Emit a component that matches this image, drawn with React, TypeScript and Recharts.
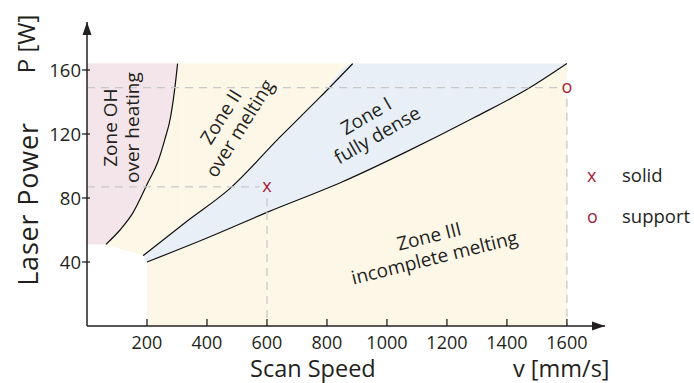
import React from 'react'
import {
  ComposedChart,
  Area,
  Line,
  Scatter,
  XAxis,
  YAxis,
  ReferenceLine,
  ReferenceDot,
} from 'recharts'

const ink = '#231f20'
const red = '#a51f3b'
const cream = '#fdf7e8'
const pink = '#f3e5e9'
const blue = '#e8eff7'
const font = '"Open Sans", sans-serif'

const xTicks = [200, 400, 600, 800, 1000, 1200, 1400, 1600]
const yTicks = [40, 80, 120, 160]

// process window, v in mm/s, P in W
const processWindow = [
  { v: 0, P: 164 },
  { v: 1600, P: 164 },
]
const ohTop = [
  { v: 0, P: 164 },
  { v: 302, P: 164 },
]
// zone boundaries
const ohBoundary = [
  { v: 63, P: 51 },
  { v: 110, P: 60 },
  { v: 154, P: 71 },
  { v: 204, P: 90 },
  { v: 235, P: 102 },
  { v: 260, P: 117 },
  { v: 278, P: 130 },
  { v: 293, P: 149 },
  { v: 302, P: 164 },
]
const upperBoundary = [
  { v: 187, P: 44 },
  { v: 330, P: 65 },
  { v: 477, P: 86 },
  { v: 643, P: 118 },
  { v: 777, P: 143 },
  { v: 886, P: 164 },
]
const lowerBoundary = [
  { v: 200, P: 40 },
  { v: 400, P: 55 },
  { v: 600, P: 71 },
  { v: 850, P: 90 },
  { v: 1066, P: 109 },
  { v: 1288, P: 130 },
  { v: 1477, P: 149 },
  { v: 1600, P: 164 },
]
const denseTop = [...upperBoundary, { v: 1600, P: 164 }]
const noZone = [
  { v: 0, P: 51 },
  { v: 63, P: 51 },
  { v: 187, P: 44 },
  { v: 200, P: 40 },
]

const samples = [
  { v: 600, P: 87, mark: 'x', name: 'solid' },
  { v: 1600, P: 149, mark: 'o', name: 'support' },
]

const zoneLabels = [
  { v: 117, P: 124, lines: ['Zone OH', 'over heating'] },
  { v: 480, P: 127, lines: ['Zone II', 'over melting'] },
  { v: 950, P: 125, lines: ['Zone I', 'fully dense'] },
  { v: 1150, P: 49, lines: ['Zone III', 'incomplete melting'] },
]
const labelAngle: Record<string, number> = {
  'Zone OH': -90,
  'Zone II': -58,
  'Zone I': -30,
  'Zone III': -14,
}

const XTick = (props: any) => {
  const { x, y, payload } = props
  return (
    <g>
      <line x1={x} x2={x} y1={y} y2={y - 7} stroke={ink} strokeWidth={1.3} />
      <text x={x} y={y + 23} textAnchor="middle" fontSize={18} fill={ink} fontFamily={font}>
        {payload.value}
      </text>
    </g>
  )
}

const YTick = (props: any) => {
  const { x, y, payload } = props
  return (
    <g>
      <line x1={x - 5} x2={x + 3} y1={y} y2={y} stroke={ink} strokeWidth={1.3} />
      <text x={x - 6} y={y + 6.5} textAnchor="end" fontSize={18.5} fill={ink} fontFamily={font}>
        {payload.value}
      </text>
    </g>
  )
}

const ZoneText = (props: any) => {
  const { cx, cy, payload } = props
  const a = labelAngle[payload.lines[0]]
  return (
    <text
      transform={`rotate(${a} ${cx} ${cy})`}
      fontSize={19}
      fill={ink}
      fontFamily={font}
      textAnchor="middle"
    >
      {payload.lines.map((l: string, i: number) => (
        <tspan key={i} x={cx} y={cy + (i === 0 ? -5 : 17)}>
          {l}
        </tspan>
      ))}
    </text>
  )
}

const Mark = (props: any) => {
  const { cx, cy, payload } = props
  return (
    <text x={cx} y={cy + 5} textAnchor="middle" fontSize={18} fill={red} fontFamily={font}>
      {payload.mark}
    </text>
  )
}

const ArrowRight = (props: any) => {
  const { cx, cy } = props
  return <polygon points={`${cx},${cy} ${cx - 13},${cy - 4.5} ${cx - 13},${cy + 4.5}`} fill={ink} />
}
const ArrowUp = (props: any) => {
  const { cx, cy } = props
  return <polygon points={`${cx},${cy} ${cx - 4.5},${cy + 13} ${cx + 4.5},${cy + 13}`} fill={ink} />
}

const txt: React.CSSProperties = {
  position: 'absolute',
  fontFamily: font,
  color: ink,
  lineHeight: 1,
  whiteSpace: 'nowrap',
}

export default function App() {
  return (
    <div style={{ position: 'absolute', left: 0, top: 0, width: 694, height: 383, background: '#fff' }}>
      <ComposedChart width={694} height={383} margin={{ top: 22, right: 89, bottom: 0, left: 0 }}>
        <XAxis
          type="number"
          dataKey="v"
          domain={[0, 1727]}
          ticks={xTicks}
          allowDataOverflow
          height={57}
          tickSize={0}
          tickMargin={0}
          tick={<XTick />}
          axisLine={{ stroke: ink, strokeWidth: 1.5 }}
        />
        <YAxis
          type="number"
          dataKey="P"
          domain={[0, 190]}
          ticks={yTicks}
          allowDataOverflow
          width={87}
          tickSize={0}
          tickMargin={0}
          tick={<YTick />}
          axisLine={{ stroke: ink, strokeWidth: 1.5 }}
        />
        <Area data={processWindow} dataKey="P" type="linear" stroke="none" fill={cream} fillOpacity={1} isAnimationActive={false} />
        <Area data={ohTop} dataKey="P" type="linear" baseValue={51} stroke="none" fill={pink} fillOpacity={1} isAnimationActive={false} />
        <Area data={ohBoundary} dataKey="P" type="monotone" stroke="none" fill={cream} fillOpacity={1} isAnimationActive={false} />
        <Area data={denseTop} dataKey="P" type="monotone" stroke="none" fill={blue} fillOpacity={1} isAnimationActive={false} />
        <Area data={lowerBoundary} dataKey="P" type="monotone" stroke="none" fill={cream} fillOpacity={1} isAnimationActive={false} />
        <Area data={noZone} dataKey="P" type="linear" stroke="none" fill="#ffffff" fillOpacity={1} isAnimationActive={false} />
        <Line data={ohBoundary} dataKey="P" type="monotone" stroke="#111" strokeWidth={1.2} dot={false} isAnimationActive={false} />
        <Line data={upperBoundary} dataKey="P" type="monotone" stroke="#111" strokeWidth={1.2} dot={false} isAnimationActive={false} />
        <Line data={lowerBoundary} dataKey="P" type="monotone" stroke="#111" strokeWidth={1.2} dot={false} isAnimationActive={false} />
        {samples.map((s) => (
          <ReferenceLine
            key={s.name + 'h'}
            segment={[{ x: 0, y: s.P }, { x: s.v - 25, y: s.P }]}
            stroke="#c8c8c8"
            strokeWidth={1.3}
            strokeDasharray="8 6"
          />
        ))}
        {samples.map((s) => (
          <ReferenceLine
            key={s.name + 'v'}
            segment={[{ x: s.v, y: s.P - 7 }, { x: s.v, y: 0 }]}
            stroke="#c8c8c8"
            strokeWidth={1.3}
            strokeDasharray="8 6"
          />
        ))}
        <Scatter data={zoneLabels} dataKey="P" shape={<ZoneText />} isAnimationActive={false} />
        <Scatter data={samples} dataKey="P" shape={<Mark />} isAnimationActive={false} />
        <ReferenceDot x={1727} y={0} r={0} ifOverflow="visible" shape={<ArrowRight />} />
        <ReferenceDot x={0} y={190} r={0} ifOverflow="visible" shape={<ArrowUp />} />
      </ComposedChart>

      {samples.map((s, i) => (
        <React.Fragment key={s.name}>
          <div style={{ ...txt, left: 587, top: 166 + i * 41, fontSize: 18, color: red }}>{s.mark}</div>
          <div style={{ ...txt, left: 622, top: 166 + i * 41, fontSize: 18.5 }}>{s.name}</div>
        </React.Fragment>
      ))}
      <div style={{ ...txt, left: 250, top: 357, fontSize: 23.5 }}>Scan Speed</div>
      <div style={{ ...txt, left: 513, top: 357, fontSize: 23.5 }}>v [mm/s]</div>
      <div
        style={{
          ...txt,
          left: 26.5,
          top: 204,
          fontSize: 27,
          letterSpacing: 0.8,
          transform: 'translate(-50%, -50%) rotate(-90deg)',
        }}
      >
        Laser Power
      </div>
      <div
        style={{ ...txt, left: 26, top: 44, fontSize: 24, transform: 'translate(-50%, -50%) rotate(-90deg)' }}
      >
        P [W]
      </div>
    </div>
  )
}
